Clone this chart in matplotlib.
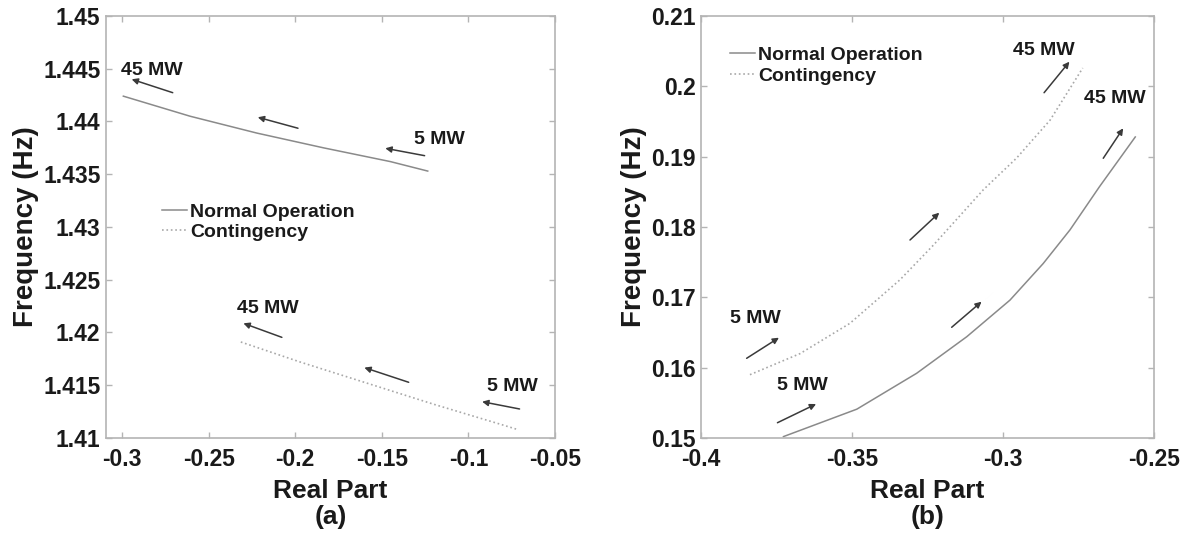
import numpy as np
import matplotlib
matplotlib.use("Agg")
import matplotlib.pyplot as plt
from matplotlib.lines import Line2D

plt.rcParams['font.family'] = ['Liberation Sans', 'DejaVu Sans']
plt.rcParams['font.weight'] = 'bold'
plt.rcParams['axes.labelweight'] = 'bold'

# (a) modo local: parte real vs frecuencia
a_normal_x = [-0.2992, -0.2607, -0.2221, -0.1836, -0.1451, -0.1235]
a_normal_y = [1.4424, 1.4405, 1.4389, 1.4375, 1.4362, 1.4353]
a_cont_x = [-0.2314, -0.1971, -0.1586, -0.1201, -0.0815, -0.0716]
a_cont_y = [1.4191, 1.4172, 1.4152, 1.4132, 1.4113, 1.4108]

# (b) modo interárea
b_normal_x = [-0.3727, -0.3484, -0.3286, -0.3120, -0.2977, -0.2867, -0.2778, -0.2681, -0.2562]
b_normal_y = [0.1502, 0.1541, 0.1592, 0.1644, 0.1696, 0.1748, 0.1796, 0.1857, 0.1928]
b_cont_x = [-0.3838, -0.3672, -0.3507, -0.3341, -0.3231, -0.3065, -0.2955, -0.2844, -0.2736]
b_cont_y = [0.1590, 0.1620, 0.1663, 0.1725, 0.1774, 0.1853, 0.1898, 0.1952, 0.2026]

# flechas (cola, punta) y rótulos de carga
a_arrows = [((-0.2707, 1.44273), (-0.2944, 1.4440)),
            ((-0.1984, 1.43936), (-0.2216, 1.44040)),
            ((-0.1253, 1.43676), (-0.1480, 1.43746)),
            ((-0.2077, 1.41954), (-0.2299, 1.42087)),
            ((-0.1345, 1.41528), (-0.1601, 1.41667)),
            ((-0.0705, 1.41275), (-0.0921, 1.41344))]
a_labels = [("45 MW", -0.2827, 1.4448), ("5 MW", -0.1169, 1.4383),
            ("45 MW", -0.2159, 1.4223), ("5 MW", -0.0747, 1.4149)]

b_arrows = [((-0.2864, 0.19909), (-0.2780, 0.20350)),
            ((-0.3308, 0.17815), (-0.3211, 0.18203)),
            ((-0.3849, 0.16133), (-0.3742, 0.16426)),
            ((-0.2668, 0.18977), (-0.2602, 0.19403)),
            ((-0.3170, 0.16574), (-0.3071, 0.16938)),
            ((-0.3747, 0.15217), (-0.3619, 0.15483))]
b_labels = [("45 MW", -0.2866, 0.2051), ("45 MW", -0.2631, 0.1983),
            ("5 MW", -0.3821, 0.1670), ("5 MW", -0.3664, 0.1575)]

a_xticks = [-0.3, -0.25, -0.2, -0.15, -0.1, -0.05]
a_xlabels = ['-0.3', '-0.25', '-0.2', '-0.15', '-0.1', '-0.05']
a_yticks = [1.41, 1.415, 1.42, 1.425, 1.43, 1.435, 1.44, 1.445, 1.45]
a_ylabels = ['1.41', '1.415', '1.42', '1.425', '1.43', '1.435', '1.44', '1.445', '1.45']
b_xticks = [-0.4, -0.35, -0.3, -0.25]
b_xlabels = ['-0.4', '-0.35', '-0.3', '-0.25']
b_yticks = [0.15, 0.16, 0.17, 0.18, 0.19, 0.2, 0.21]
b_ylabels = ['0.15', '0.16', '0.17', '0.18', '0.19', '0.2', '0.21']

c_normal = '#8a8a8a'
c_cont = '#a8a8a8'
c_axis = '#b4b4b4'
c_text = '#1a1a1a'

fig = plt.figure(figsize=(11.82, 5.4), dpi=100)
ax1 = fig.add_axes([0.0897, 0.1889, 0.3799, 0.7815])
ax2 = fig.add_axes([0.5931, 0.1889, 0.3832, 0.7815])


def formato(ax, xt, xl, yt, yl, xlim, ylim, letra):
    ax.set_xlim(xlim)
    ax.set_ylim(ylim)
    ax.set_xticks(xt)
    ax.set_xticklabels(xl)
    ax.set_yticks(yt)
    ax.set_yticklabels(yl)
    ax.tick_params(direction='in', length=4, width=1, color=c_axis,
                   top=True, right=True, labelsize=16.5, labelcolor=c_text)
    ax.tick_params(axis='x', pad=7)
    ax.tick_params(axis='y', pad=4)
    for s in ax.spines.values():
        s.set_color(c_axis)
        s.set_linewidth(1.2)
    ax.set_xlabel("Real Part", fontsize=19, fontweight='bold', color=c_text, labelpad=6)
    ax.set_ylabel("Frequency (Hz)", fontsize=20, fontweight='bold', color=c_text, labelpad=3)
    ax.text(0.5, -0.187, letra, transform=ax.transAxes, ha='center', va='center',
            fontsize=19, color=c_text)


def flechas(ax, arrows, labels):
    for tail, head in arrows:
        ax.annotate("", xy=head, xytext=tail,
                    arrowprops=dict(arrowstyle='-|>', color='#3a3a3a', lw=1.1,
                                    mutation_scale=9, shrinkA=0, shrinkB=0))
    for txt, x, y in labels:
        ax.text(x, y, txt, ha='center', va='center', fontsize=14, color=c_text)


# Panel (a)
ax1.plot(a_normal_x, a_normal_y, '-', color=c_normal, lw=1.1)
ax1.plot(a_cont_x, a_cont_y, ':', color=c_cont, lw=1.2)
flechas(ax1, a_arrows, a_labels)
formato(ax1, a_xticks, a_xlabels, a_yticks, a_ylabels, (-0.3092, -0.05), (1.41, 1.45), "(a)")

# Panel (b)
ax2.plot(b_normal_x, b_normal_y, '-', color=c_normal, lw=1.1)
ax2.plot(b_cont_x, b_cont_y, ':', color=c_cont, lw=1.2)
flechas(ax2, b_arrows, b_labels)
formato(ax2, b_xticks, b_xlabels, b_yticks, b_ylabels, (-0.4, -0.25), (0.15, 0.21), "(b)")

handles = [Line2D([], [], color=c_normal, lw=1.1, ls='-'),
           Line2D([], [], color=c_cont, lw=1.2, ls=':')]
nombres = ["Normal Operation", "Contingency"]
for ax, pos, sp in [(ax1, (0.125, 0.556), 0.1), (ax2, (0.064, 0.929), 0.2)]:
    leg = ax.legend(handles, nombres, loc='upper left', bbox_to_anchor=pos,
                    frameon=False, borderpad=0, borderaxespad=0, handlelength=1.3,
                    handletextpad=0.15, labelspacing=sp,
                    prop={'size': 14, 'weight': 'bold'})
    for t in leg.get_texts():
        t.set_color(c_text)

plt.savefig("out.png", dpi=100)
